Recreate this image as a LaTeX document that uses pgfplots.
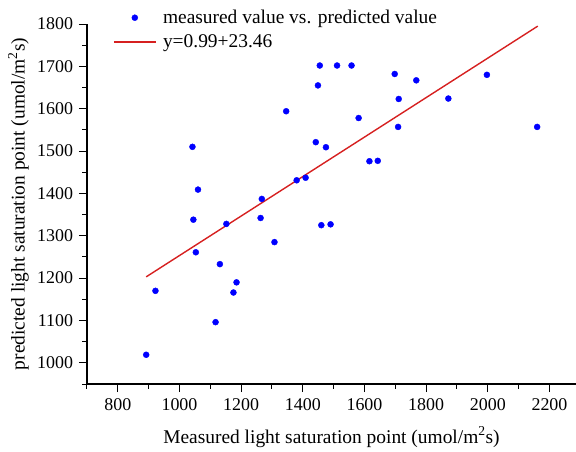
\documentclass[border=0pt]{standalone}
\usepackage{fontspec}
\setmainfont{Liberation Serif}
\usepackage{pgfplots}
\pgfplotsset{compat=1.18}
\definecolor{ptblue}{RGB}{0,0,255}
\definecolor{linered}{RGB}{214,32,32}
\pgfplotsset{
  scatleg/.style={legend image code/.code={\draw[mark repeat=2,mark phase=2,##1] plot coordinates {(0bp,0bp) (21bp,0bp) (42bp,0bp)};}},
  lineleg/.style={legend image code/.code={\draw[##1] (0bp,0bp) -- (42bp,0bp);}},
}
\begin{document}
\begin{tikzpicture}[font=\fontsize{19.5}{23}\selectfont]
\begin{axis}[
  scale only axis, width=489bp, height=360bp,
  at={(0,0)}, anchor=south west,
  xmin=700, xmax=2286, ymin=950, ymax=1800,
  axis lines*=left,
  axis line style={line width=1.1bp, black},
  tick align=outside,
  major tick length=8bp, minor tick length=4.5bp,
  every tick/.style={black, line width=1bp},
  xtick={800,1000,...,2200}, ytick={1000,1100,...,1800},
  minor xtick={700,900,...,2100}, minor ytick={950,1050,...,1750},
  tick label style={font=\fontsize{18}{21}\selectfont},
  xticklabel style={yshift=-3bp},
  yticklabel style={xshift=-2.5bp},
  /pgf/number format/assume math mode=true,
  /pgf/number format/1000 sep={},
  clip=false,
  xlabel={Measured light saturation point (umol/m\textsuperscript{2}s)},
  ylabel={predicted light saturation point (umol/m\textsuperscript{2}s)},
  every axis x label/.style={at={(axis description cs:0.5,-0.147)}, anchor=center},
  every axis y label/.style={at={(axis description cs:-0.14,0.5)}, anchor=center, rotate=90},
  legend cell align=left,
  legend style={draw=none, fill=none, at={(axis description cs:0.053,1.043)}, anchor=north west,
    inner sep=0pt, row sep=6.5bp, nodes={inner sep=1.5bp},
    /tikz/every odd column/.append style={column sep=5bp}},
]
\addplot[only marks, mark=*, mark size=3bp, color=ptblue, scatleg]
  coordinates {
  (892,1019) (922,1170) (1042,1510) (1045,1338) (1053,1261) (1060,1409)
  (1117,1096) (1131,1233) (1152,1328) (1175,1166) (1185,1190) (1263,1342)
  (1267,1387) (1308,1285) (1346,1594) (1380,1431) (1409,1437) (1442,1521)
  (1449,1655) (1455,1702) (1460,1325) (1475,1509) (1490,1327) (1511,1702)
  (1558,1702) (1581,1578) (1616,1476) (1643,1477) (1698,1682) (1709,1557)
  (1711,1623) (1768,1667) (1872,1624) (1997,1680) (2160,1557)
  };
\addlegendentry{measured value vs. predicted value}
\addplot[linered, line width=1.4bp, lineleg]
  coordinates {(892,1203) (2162,1795)};
\addlegendentry{y=0.99+23.46}
\end{axis}
\pgfresetboundingbox
\useasboundingbox (-87bp,-68bp) rectangle (489bp,384bp);
\end{tikzpicture}
\end{document}
